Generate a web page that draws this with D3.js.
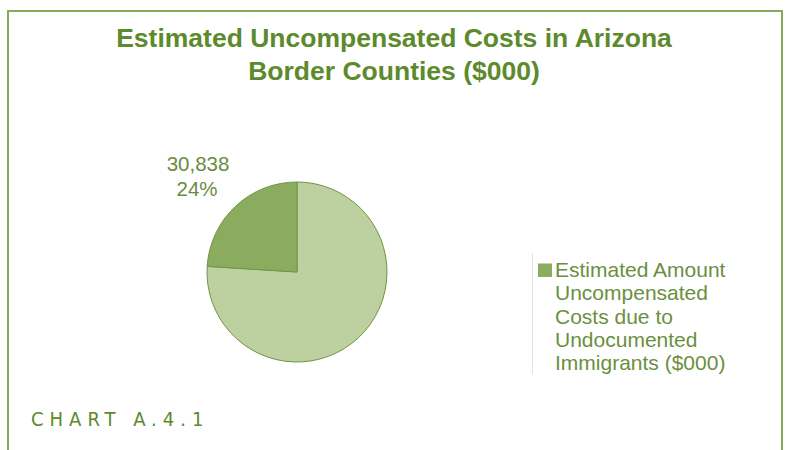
<!DOCTYPE html>
<html>
<head>
<meta charset="utf-8">
<script src="https://cdn.jsdelivr.net/npm/d3@7/dist/d3.min.js"></script>
<style>
  html, body { margin: 0; padding: 0; background: #fff; }
  svg { display: block; }
</style>
</head>
<body>
<svg id="chart" width="785" height="450"></svg>
<script>
// Slice data: remaining county costs and the share attributed to undocumented immigrants
const sliceNames = ["Other Uncompensated Costs ($000)", "Estimated Amount Uncompensated Costs due to Undocumented Immigrants ($000)"];
const sliceValues = [97650, 30838];
const sliceColors = ["#bdd0a0", "#8bac5f"];
const titleLines = ["Estimated Uncompensated Costs in Arizona", "Border Counties ($000)"];
const legendLines = ["Estimated Amount", "Uncompensated", "Costs due to", "Undocumented", "Immigrants ($000)"];
const chartTag = "CHART A.4.1";

const svg = d3.select("#chart");

// Frame
svg.append("rect")
  .attr("x", 8).attr("y", 11)
  .attr("width", 774).attr("height", 460)
  .attr("fill", "none")
  .attr("stroke", "#86a95c")
  .attr("stroke-width", 2);

// Title
const title = svg.append("text")
  .attr("text-anchor", "middle")
  .attr("font-family", "Liberation Sans, Arial, sans-serif")
  .attr("font-weight", "bold")
  .attr("font-size", 26.5)
  .attr("fill", "#5c8a2c");
title.selectAll("tspan").data(titleLines).join("tspan")
  .attr("x", 394)
  .attr("y", (d, i) => 47 + i * 33)
  .text(d => d);

// Pie
const cx = 297, cy = 272, r = 90;
const total = d3.sum(sliceValues);
const pie = d3.pie().sort(null).value(d => d)(sliceValues);
const arc = d3.arc().innerRadius(0).outerRadius(r);
const g = svg.append("g").attr("transform", `translate(${cx},${cy})`);
g.selectAll("path").data(pie).join("path")
  .attr("d", arc)
  .attr("fill", (d, i) => sliceColors[i])
  .attr("stroke", "#6f9445")
  .attr("stroke-width", 1);

// Label for the highlighted slice
const fmt = d3.format(",");
const lab = svg.append("text")
  .attr("text-anchor", "middle")
  .attr("font-family", "Liberation Sans, Arial, sans-serif")
  .attr("font-size", 20.5)
  .attr("fill", "#6b8c40");
lab.append("tspan").attr("x", 198).attr("y", 171).text(fmt(sliceValues[1]));
lab.append("tspan").attr("x", 197).attr("y", 196)
  .text(d3.format(".0%")(sliceValues[1] / total));

// Legend
svg.append("line")
  .attr("x1", 532.5).attr("x2", 532.5)
  .attr("y1", 253).attr("y2", 374)
  .attr("stroke", "#e2e2e2").attr("stroke-width", 1);
svg.append("rect")
  .attr("x", 538).attr("y", 263.5)
  .attr("width", 14).attr("height", 13.5)
  .attr("fill", sliceColors[1]);
const leg = svg.append("text")
  .attr("font-family", "Liberation Sans, Arial, sans-serif")
  .attr("font-size", 21)
  .attr("fill", "#6b8f3e");
leg.selectAll("tspan").data(legendLines).join("tspan")
  .attr("x", 555)
  .attr("y", (d, i) => 277 + i * 23.3)
  .text(d => d);

// Chart tag
svg.append("text")
  .attr("x", 31).attr("y", 426)
  .attr("font-family", "DejaVu Sans Condensed, DejaVu Sans, sans-serif")
  .attr("font-size", 20)
  .attr("letter-spacing", 6)
  .attr("fill", "#5c8a2c")
  .text(chartTag);
</script>
</body>
</html>
